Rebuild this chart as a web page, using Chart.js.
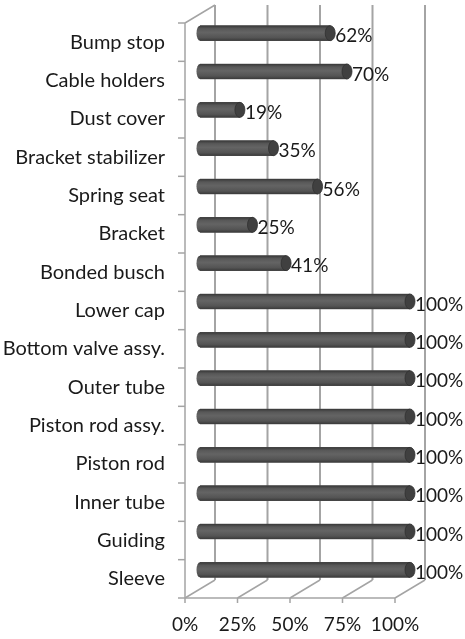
<!DOCTYPE html>
<html>
<head>
<meta charset="utf-8">
<script src="https://cdn.jsdelivr.net/npm/chart.js@4/dist/chart.umd.min.js"></script>
<style>
  html, body { margin: 0; padding: 0; background: #fff; }
  #chart { display: block; }
</style>
</head>
<body>
<canvas id="chart" width="465" height="639"></canvas>
<script>
// 資料
const categories = [
  'Bump stop', 'Cable holders', 'Dust cover', 'Bracket stabilizer', 'Spring seat',
  'Bracket', 'Bonded busch', 'Lower cap', 'Bottom valve assy.', 'Outer tube',
  'Piston rod assy.', 'Piston rod', 'Inner tube', 'Guiding', 'Sleeve'
];
const shares = [62, 70, 19, 35, 56, 25, 41, 100, 100, 100, 100, 100, 100, 100, 100];
const tickValues = [0, 25, 50, 75, 100];

// 3D 深度 (半深度)
const DX = 15;
const DY = 9;
const FAMILY = 'Lato, "Noto Sans", sans-serif';

function barGradient(ctx, top, h) {
  const grad = ctx.createLinearGradient(0, top, 0, top + h);
  grad.addColorStop(0, '#383838');
  grad.addColorStop(0.2, '#585858');
  grad.addColorStop(0.45, '#646464');
  grad.addColorStop(0.8, '#545454');
  grad.addColorStop(1, '#3a3a3a');
  return grad;
}

const wallPlugin = {
  id: 'walls',
  beforeDatasetsDraw(chart) {
    const { ctx, chartArea: a, scales: { x, y } } = chart;
    ctx.save();
    ctx.strokeStyle = '#a4a4a4';
    ctx.lineWidth = 2;

    // 背面格線
    tickValues.forEach(v => {
      const px = x.getPixelForValue(v) + DX;
      ctx.beginPath();
      ctx.moveTo(px, a.top - DY);
      ctx.lineTo(px, a.bottom - DY);
      ctx.stroke();
    });

    ctx.lineWidth = 1.5;
    // 地板斜線與刻度
    const frontY = a.bottom + DY;
    tickValues.forEach(v => {
      const px = x.getPixelForValue(v);
      ctx.beginPath();
      ctx.moveTo(px - DX, frontY);
      ctx.lineTo(px + DX, a.bottom - DY);
      ctx.moveTo(px - DX, frontY);
      ctx.lineTo(px - DX, frontY + 5);
      ctx.stroke();
    });
    ctx.beginPath();
    ctx.moveTo(x.getPixelForValue(0) - DX, frontY);
    ctx.lineTo(x.getPixelForValue(100) - DX, frontY);
    ctx.stroke();

    // 左側牆
    const lx = x.getPixelForValue(0) - DX;
    ctx.beginPath();
    ctx.moveTo(lx, a.top + DY);
    ctx.lineTo(lx, frontY);
    ctx.moveTo(lx, a.top + DY);
    ctx.lineTo(lx + 2 * DX, a.top - DY);
    ctx.stroke();
    for (let i = 0; i <= categories.length; i++) {
      const py = y.getPixelForValue(i - 0.5) + DY;
      ctx.beginPath();
      ctx.moveTo(lx - 7, py);
      ctx.lineTo(lx, py);
      ctx.stroke();
    }
    ctx.restore();
  },
  afterDatasetsDraw(chart) {
    const { ctx } = chart;
    const meta = chart.getDatasetMeta(0);
    ctx.save();
    meta.data.forEach((bar, i) => {
      const h = bar.height;
      const top = bar.y - h / 2;
      const grad = barGradient(ctx, top, h);
      // 圓柱本體
      ctx.fillStyle = grad;
      ctx.fillRect(bar.base, top, bar.x - bar.base, h);
      // 左端圓弧
      ctx.beginPath();
      ctx.ellipse(bar.base, bar.y, 3.5, h / 2, 0, Math.PI / 2, Math.PI * 1.5);
      ctx.fill();
      // 右端截面
      ctx.fillStyle = '#404040';
      ctx.beginPath();
      ctx.ellipse(bar.x, bar.y, 5, h / 2, 0, 0, Math.PI * 2);
      ctx.fill();
      ctx.strokeStyle = '#303030';
      ctx.lineWidth = 0.8;
      ctx.stroke();
      // 數值標籤
      ctx.fillStyle = '#1a1a1a';
      ctx.font = '19px ' + FAMILY;
      ctx.textAlign = 'left';
      ctx.textBaseline = 'middle';
      ctx.fillText(shares[i] + '%', bar.x + 5, bar.y + 3);
    });
    ctx.restore();
  }
};

new Chart(document.getElementById('chart'), {
  type: 'bar',
  data: {
    labels: categories,
    datasets: [{
      data: shares,
      barThickness: 15,
      borderSkipped: false,
      backgroundColor: '#575757'
    }]
  },
  options: {
    indexAxis: 'y',
    responsive: false,
    animation: false,
    layout: { padding: { top: 14, right: 55, left: 0, bottom: 0 } },
    plugins: {
      legend: { display: false },
      tooltip: { enabled: false }
    },
    scales: {
      x: {
        min: 0,
        max: 100,
        afterBuildTicks(scale) {
          scale.ticks = tickValues.map(v => ({ value: v }));
        },
        afterFit(scale) {
          scale.height = 50;
          scale.paddingLeft = 0;
          scale.paddingRight = 0;
        },
        grid: { display: false, drawTicks: false },
        border: { display: false },
        ticks: {
          padding: 24,
          labelOffset: -DX,
          maxRotation: 0,
          color: '#1a1a1a',
          font: { family: FAMILY, size: 19 },
          callback: v => v + '%'
        }
      },
      y: {
        afterFit(scale) {
          scale.width = 200;
          scale.paddingTop = 0;
          scale.paddingBottom = 0;
        },
        grid: { display: false, drawTicks: false },
        border: { display: false },
        ticks: {
          padding: 35,
          labelOffset: DY,
          autoSkip: false,
          color: '#1a1a1a',
          font: { family: FAMILY, size: 20 }
        }
      }
    }
  },
  plugins: [wallPlugin]
});
</script>
</body>
</html>
